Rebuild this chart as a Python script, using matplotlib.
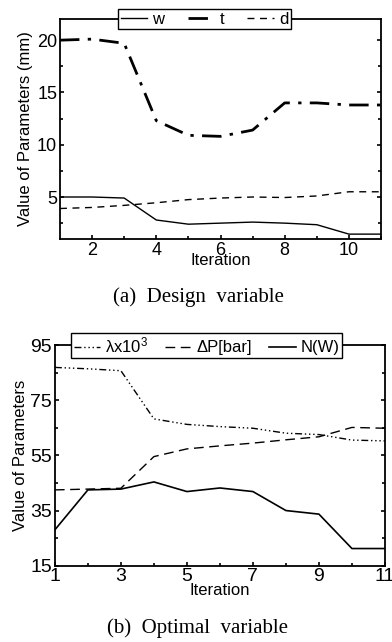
import numpy as np
import matplotlib
matplotlib.use("Agg")
import matplotlib.pyplot as plt

plt.rcParams['font.family'] = ['Liberation Sans', 'DejaVu Sans']
plt.rcParams['mathtext.default'] = 'regular'

# top panel: design variables (mm)
it = [1, 2, 3, 4, 5, 6, 7, 8, 9, 10, 11]
w = [5.0, 5.0, 4.9, 2.8, 2.4, 2.5, 2.6, 2.5, 2.35, 1.45, 1.45]
t = [20.0, 20.1, 19.7, 12.3, 10.9, 10.8, 11.4, 14.0, 14.0, 13.8, 13.8]
d = [3.9, 4.0, 4.2, 4.45, 4.75, 4.9, 5.0, 4.95, 5.1, 5.5, 5.5]

# bottom panel: optimal variables
lam = [87.0, 86.5, 85.8, 68.3, 66.3, 65.5, 64.9, 63.1, 62.6, 60.6, 60.3]
dp = [42.5, 42.8, 43.1, 54.6, 57.4, 58.5, 59.5, 60.7, 61.8, 65.2, 64.9]
nw = [28.0, 42.5, 42.8, 45.4, 41.9, 43.2, 41.9, 35.0, 33.7, 21.2, 21.2]

fig = plt.figure(figsize=(3.92, 6.42), dpi=100)

def style(ax):
    for s in ax.spines.values():
        s.set_linewidth(1.3)
    ax.tick_params(direction='in', which='both', right=True, top=False,
                   labelsize=13, width=1.2, pad=2)
    ax.tick_params(which='major', length=3)
    ax.tick_params(which='minor', length=2)

# ---- (a)
ax1 = fig.add_axes([0.153, 0.628, 0.819, 0.342])
ax1.plot(it, w, color='black', lw=1.0, ls='-', label='w')
ax1.plot(it, t, color='black', lw=2.0, dashes=(7, 3, 1.2, 3), label='t')
ax1.plot(it, d, color='black', lw=1.0, dashes=(5, 4), label='d')
ax1.set_xlim(1, 11)
ax1.set_ylim(1, 22)
ax1.set_xticks([2, 4, 6, 8, 10])
ax1.set_xticks([3, 5, 7, 9, 11], minor=True)
ax1.set_yticks([5, 10, 15, 20])
ax1.set_yticks([2.5, 7.5, 12.5, 17.5], minor=True)
style(ax1)
ax1.set_xlabel('Iteration', fontsize=12, labelpad=-4)
ax1.set_ylabel('Value of Parameters (mm)', fontsize=12, labelpad=3)
leg1 = ax1.legend(loc='center', bbox_to_anchor=(0.45, 1.0), ncol=3, fontsize=12,
                  frameon=True, fancybox=False, edgecolor='black', framealpha=1,
                  handlelength=1.6, handletextpad=0.3, columnspacing=1.4,
                  borderpad=0.15, borderaxespad=0)
leg1.get_frame().set_linewidth(1.0)

fig.text(0.505, 0.537, '(a)  Design  variable', ha='center', va='center',
         fontsize=15, family=['Liberation Serif'])

# ---- (b)
ax2 = fig.add_axes([0.140, 0.119, 0.842, 0.343])
ax2.plot(it, lam, color='black', lw=1.0, dashes=(5, 2, 1, 2, 1, 2, 1, 2), label='λx10$^3$')
ax2.plot(it, dp, color='black', lw=1.0, dashes=(7, 4), label='ΔP[bar]')
ax2.plot(it, nw, color='black', lw=1.2, ls='-', label='N(W)')
ax2.set_xlim(1, 11)
ax2.set_ylim(15, 95)
ax2.set_xticks([1, 3, 5, 7, 9, 11])
ax2.set_xticks([2, 4, 6, 8, 10], minor=True)
ax2.set_yticks([15, 35, 55, 75, 95])
ax2.set_yticks([25, 45, 65, 85], minor=True)
style(ax2)
ax2.tick_params(labelsize=14)
ax2.set_xlabel('Iteration', fontsize=12, labelpad=-2)
ax2.set_ylabel('Value of Parameters', fontsize=12, labelpad=2)
leg2 = ax2.legend(loc='center', bbox_to_anchor=(0.46, 1.0), ncol=3, fontsize=12,
                  frameon=True, fancybox=False, edgecolor='black', framealpha=1,
                  handlelength=1.6, handletextpad=0.3, columnspacing=1.0,
                  borderpad=0.15, borderaxespad=0)
leg2.get_frame().set_linewidth(1.0)

fig.text(0.505, 0.022, '(b)  Optimal  variable', ha='center', va='center',
         fontsize=15, family=['Liberation Serif'])

fig.savefig('out.png', dpi=100)
